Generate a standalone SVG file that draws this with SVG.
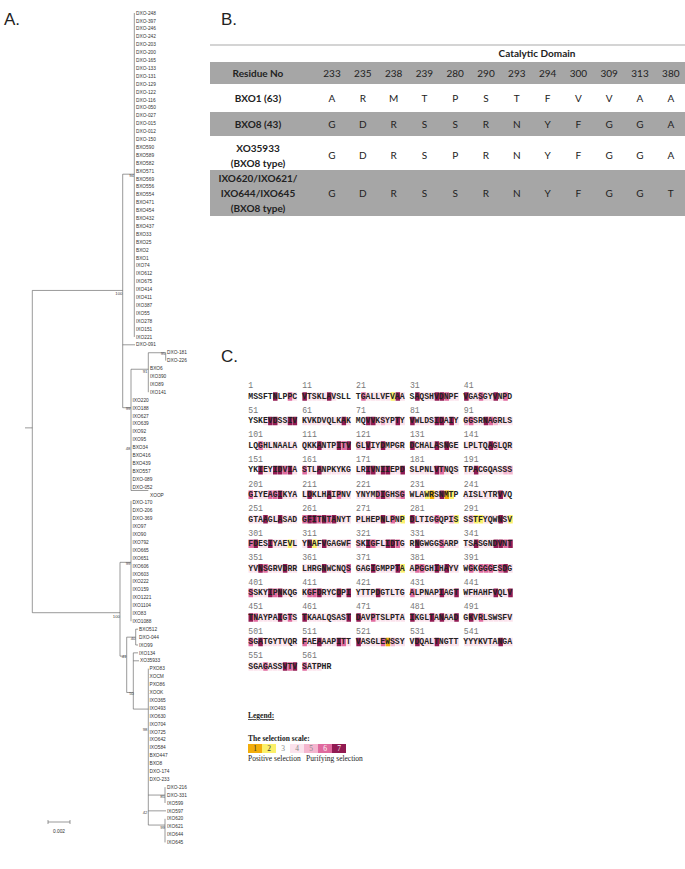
<svg xmlns="http://www.w3.org/2000/svg" width="685" height="869" viewBox="0 0 685 869">
<style>
.t{font-family:"Liberation Sans",Arial,sans-serif;font-size:4.8px;fill:#333}
.bs{font-family:"Liberation Sans",Arial,sans-serif;font-size:4.3px;fill:#444;text-anchor:end}
.br{stroke:#555;stroke-width:0.6;fill:none}
.lab{font-family:"Liberation Sans",Arial,sans-serif;font-size:17px;fill:#222}
.tb{font-family:Lato,"Liberation Sans",sans-serif;font-size:10px;fill:#222;text-anchor:middle}
.b{font-weight:bold}
.sq{font-family:"Liberation Mono","Courier New",monospace;font-size:11.85px;font-weight:bold;fill:#222}
.nm{font-family:"Liberation Mono","Courier New",monospace;font-size:11.85px;fill:#777}
.s1{stroke:#f2ad0b;stroke-width:12.5;fill:none}
.s2{stroke:#fbf06a;stroke-width:12.5;fill:none}
.s4{stroke:#fbe2ec;stroke-width:12.5;fill:none}
.s5{stroke:#f4b6cf;stroke-width:12.5;fill:none}
.s6{stroke:#e06a9e;stroke-width:12.5;fill:none}
.s7{stroke:#911a52;stroke-width:12.5;fill:none}
.lg{font-family:"Liberation Serif","Times New Roman",serif;font-size:7.5px;fill:#222}
.lgn{font-family:"Liberation Serif","Times New Roman",serif;font-size:7.5px;text-anchor:middle}
</style>
<rect width="685" height="869" fill="#fff"/>

<!-- Panel letters -->
<text class="lab" x="4" y="25">A.</text>
<text class="lab" x="221" y="25">B.</text>
<text class="lab" x="221" y="362">C.</text>

<!-- Panel A: tree -->
<g id="tree" transform="matrix(1 0 0 0.99371 0 -1.409)">
<g id="tree-edges">
<path class="br" d="M25 432H32.3M32.3 293.7V618M32.3 293.7H122.7M32.3 618H120M122.7 176.7V411.7M122.7 176.7H134.3M134.3 14.5V340.5M122.7 348.4H135M122.7 411.7H131M131 373V495M131 373H148.3M148.3 356.4V396.1M148.3 356.4H165.7M165.7 356.4V364.3M131 495H148.3M120 567.3V661.7M120 567.3H131M131 505.4V626.6M120 661.7H126.7M126.7 642.6V698.3M126.7 642.6H135.7M135.7 634.6V650.5M135.7 634.6H138M135.7 650.5H138M126.7 698.3H133.3M133.3 658.4V715M133.3 658.4H138M133.3 666.4H139M133.3 715H148.3M148.3 674.3V831.7M148.3 801.5H165M165 793.6V809.5M148.3 817.4H166M148.3 831.7H165M165 825.4V849.2"/>
</g>
<g id="bootstrap">
<text class="bs" x="122.5" y="298">100</text>
<text class="bs" x="134" y="179.5">94</text>
<text class="bs" x="130.5" y="414">99</text>
<text class="bs" x="147.5" y="377">91</text>
<text class="bs" x="165.5" y="358.5">95</text>
<text class="bs" x="130.5" y="454.5">48</text>
<text class="bs" x="120" y="623">100</text>
<text class="bs" x="130.5" y="569.5">99</text>
<text class="bs" x="126.5" y="664">41</text>
<text class="bs" x="135.5" y="645.5">40</text>
<text class="bs" x="134" y="700.5">50</text>
<text class="bs" x="147.5" y="737">98</text>
<text class="bs" x="165" y="804">85</text>
<text class="bs" x="147.5" y="820.5">42</text>
<text class="bs" x="165" y="836">99</text>
</g>
<g id="leaves">
<g id="n-DXO-248"><text class="t" x="136" y="16.2">DXO-248</text></g>
<g id="n-DXO-397"><text class="t" x="136" y="24.15">DXO-397</text></g>
<g id="n-DXO-246"><text class="t" x="136" y="32.1">DXO-246</text></g>
<g id="n-DXO-242"><text class="t" x="136" y="40.05">DXO-242</text></g>
<g id="n-DXO-203"><text class="t" x="136" y="48">DXO-203</text></g>
<g id="n-DXO-200"><text class="t" x="136" y="55.95">DXO-200</text></g>
<g id="n-DXO-165"><text class="t" x="136" y="63.9">DXO-165</text></g>
<g id="n-DXO-133"><text class="t" x="136" y="71.85">DXO-133</text></g>
<g id="n-DXO-131"><text class="t" x="136" y="79.8">DXO-131</text></g>
<g id="n-DXO-129"><text class="t" x="136" y="87.75">DXO-129</text></g>
<g id="n-DXO-122"><text class="t" x="136" y="95.7">DXO-122</text></g>
<g id="n-DXO-116"><text class="t" x="136" y="103.65">DXO-116</text></g>
<g id="n-DXO-050"><text class="t" x="136" y="111.6">DXO-050</text></g>
<g id="n-DXO-027"><text class="t" x="136" y="119.55">DXO-027</text></g>
<g id="n-DXO-015"><text class="t" x="136" y="127.5">DXO-015</text></g>
<g id="n-DXO-012"><text class="t" x="136" y="135.45">DXO-012</text></g>
<g id="n-DXO-150"><text class="t" x="136" y="143.4">DXO-150</text></g>
<g id="n-BXO590"><text class="t" x="136" y="151.35">BXO590</text></g>
<g id="n-BXO589"><text class="t" x="136" y="159.3">BXO589</text></g>
<g id="n-BXO582"><text class="t" x="136" y="167.25">BXO582</text></g>
<g id="n-BXO571"><text class="t" x="136" y="175.2">BXO571</text></g>
<g id="n-BXO569"><text class="t" x="136" y="183.15">BXO569</text></g>
<g id="n-BXO556"><text class="t" x="136" y="191.1">BXO556</text></g>
<g id="n-BXO554"><text class="t" x="136" y="199.05">BXO554</text></g>
<g id="n-BXO471"><text class="t" x="136" y="207">BXO471</text></g>
<g id="n-BXO454"><text class="t" x="136" y="214.95">BXO454</text></g>
<g id="n-BXO432"><text class="t" x="136" y="222.9">BXO432</text></g>
<g id="n-BXO437"><text class="t" x="136" y="230.85">BXO437</text></g>
<g id="n-BXO33"><text class="t" x="136" y="238.8">BXO33</text></g>
<g id="n-BXO25"><text class="t" x="136" y="246.75">BXO25</text></g>
<g id="n-BXO2"><text class="t" x="136" y="254.7">BXO2</text></g>
<g id="n-BXO1"><text class="t" x="136" y="262.65">BXO1</text></g>
<g id="n-IXO74"><text class="t" x="136" y="270.6">IXO74</text></g>
<g id="n-IXO612"><text class="t" x="136" y="278.55">IXO612</text></g>
<g id="n-IXO675"><text class="t" x="136" y="286.5">IXO675</text></g>
<g id="n-IXO414"><text class="t" x="136" y="294.45">IXO414</text></g>
<g id="n-IXO411"><text class="t" x="136" y="302.4">IXO411</text></g>
<g id="n-IXO387"><text class="t" x="136" y="310.35">IXO387</text></g>
<g id="n-IXO55"><text class="t" x="136" y="318.3">IXO55</text></g>
<g id="n-IXO278"><text class="t" x="136" y="326.25">IXO278</text></g>
<g id="n-IXO151"><text class="t" x="136" y="334.2">IXO151</text></g>
<g id="n-IXO221"><text class="t" x="136" y="342.15">IXO221</text></g>
<g id="n-DXO-091"><text class="t" x="136" y="350.1">DXO-091</text></g>
<g id="n-DXO-181"><text class="t" x="167" y="358.05">DXO-181</text></g>
<g id="n-DXO-226"><text class="t" x="167" y="366">DXO-226</text></g>
<g id="n-BXO6"><text class="t" x="150" y="373.95">BXO6</text></g>
<g id="n-IXO390"><text class="t" x="150" y="381.9">IXO390</text></g>
<g id="n-IXO89"><text class="t" x="150" y="389.85">IXO89</text></g>
<g id="n-IXO141"><text class="t" x="150" y="397.8">IXO141</text></g>
<g id="n-IXO220"><text class="t" x="132.5" y="405.75">IXO220</text></g>
<g id="n-IXO188"><text class="t" x="132.5" y="413.7">IXO188</text></g>
<g id="n-IXO627"><text class="t" x="132.5" y="421.65">IXO627</text></g>
<g id="n-IXO639"><text class="t" x="132.5" y="429.6">IXO639</text></g>
<g id="n-IXO92"><text class="t" x="132.5" y="437.55">IXO92</text></g>
<g id="n-IXO95"><text class="t" x="132.5" y="445.5">IXO95</text></g>
<g id="n-BXO34"><text class="t" x="132.5" y="453.45">BXO34</text></g>
<g id="n-BXO416"><text class="t" x="132.5" y="461.4">BXO416</text></g>
<g id="n-BXO439"><text class="t" x="132.5" y="469.35">BXO439</text></g>
<g id="n-BXO557"><text class="t" x="132.5" y="477.3">BXO557</text></g>
<g id="n-DXO-089"><text class="t" x="132.5" y="485.25">DXO-089</text></g>
<g id="n-DXO-052"><text class="t" x="132.5" y="493.2">DXO-052</text></g>
<g id="n-XOOP"><text class="t" x="150" y="501.15">XOOP</text></g>
<g id="n-DXO-170"><text class="t" x="132.5" y="509.1">DXO-170</text></g>
<g id="n-DXO-206"><text class="t" x="132.5" y="517.05">DXO-206</text></g>
<g id="n-DXO-369"><text class="t" x="132.5" y="525">DXO-369</text></g>
<g id="n-IXO97"><text class="t" x="132.5" y="532.95">IXO97</text></g>
<g id="n-IXO90"><text class="t" x="132.5" y="540.9">IXO90</text></g>
<g id="n-IXO792"><text class="t" x="132.5" y="548.85">IXO792</text></g>
<g id="n-IXO665"><text class="t" x="132.5" y="556.8">IXO665</text></g>
<g id="n-IXO651"><text class="t" x="132.5" y="564.75">IXO651</text></g>
<g id="n-IXO606"><text class="t" x="132.5" y="572.7">IXO606</text></g>
<g id="n-IXO603"><text class="t" x="132.5" y="580.65">IXO603</text></g>
<g id="n-IXO222"><text class="t" x="132.5" y="588.6">IXO222</text></g>
<g id="n-IXO159"><text class="t" x="132.5" y="596.55">IXO159</text></g>
<g id="n-IXO1221"><text class="t" x="132.5" y="604.5">IXO1221</text></g>
<g id="n-IXO1104"><text class="t" x="132.5" y="612.45">IXO1104</text></g>
<g id="n-IXO83"><text class="t" x="132.5" y="620.4">IXO83</text></g>
<g id="n-IXO1088"><text class="t" x="132.5" y="628.35">IXO1088</text></g>
<g id="n-BXO512"><text class="t" x="139" y="636.3">BXO512</text></g>
<g id="n-DXO-044"><text class="t" x="139" y="644.25">DXO-044</text></g>
<g id="n-IXO99"><text class="t" x="139" y="652.2">IXO99</text></g>
<g id="n-IXO134"><text class="t" x="139" y="660.15">IXO134</text></g>
<g id="n-XO35933"><text class="t" x="140" y="668.1">XO35933</text></g>
<g id="n-PXO83"><text class="t" x="149.5" y="676.05">PXO83</text></g>
<g id="n-XOCM"><text class="t" x="149.5" y="684">XOCM</text></g>
<g id="n-PXO86"><text class="t" x="149.5" y="691.95">PXO86</text></g>
<g id="n-XOOK"><text class="t" x="149.5" y="699.9">XOOK</text></g>
<g id="n-IXO365"><text class="t" x="149.5" y="707.85">IXO365</text></g>
<g id="n-IXO493"><text class="t" x="149.5" y="715.8">IXO493</text></g>
<g id="n-IXO630"><text class="t" x="149.5" y="723.75">IXO630</text></g>
<g id="n-IXO704"><text class="t" x="149.5" y="731.7">IXO704</text></g>
<g id="n-IXO725"><text class="t" x="149.5" y="739.65">IXO725</text></g>
<g id="n-IXO642"><text class="t" x="149.5" y="747.6">IXO642</text></g>
<g id="n-IXO584"><text class="t" x="149.5" y="755.55">IXO584</text></g>
<g id="n-BXO447"><text class="t" x="149.5" y="763.5">BXO447</text></g>
<g id="n-BXO8"><text class="t" x="149.5" y="771.45">BXO8</text></g>
<g id="n-DXO-174"><text class="t" x="149.5" y="779.4">DXO-174</text></g>
<g id="n-DXO-233"><text class="t" x="149.5" y="787.35">DXO-233</text></g>
<g id="n-DXO-216"><text class="t" x="167" y="795.3">DXO-216</text></g>
<g id="n-DXO-331"><text class="t" x="167" y="803.25">DXO-331</text></g>
<g id="n-IXO599"><text class="t" x="167" y="811.2">IXO599</text></g>
<g id="n-IXO597"><text class="t" x="167" y="819.15">IXO597</text></g>
<g id="n-IXO620"><text class="t" x="167" y="827.1">IXO620</text></g>
<g id="n-IXO621"><text class="t" x="167" y="835.05">IXO621</text></g>
<g id="n-IXO644"><text class="t" x="167" y="843">IXO644</text></g>
<g id="n-IXO645"><text class="t" x="167" y="850.95">IXO645</text></g>
</g>
</g>
<g id="scale-bar">
<path class="br" d="M48 822H70M48 820V824M70 820V824"/>
<text class="t" x="59" y="833" text-anchor="middle">0.002</text>
</g>

<!-- Panel B: table -->
<g id="table">
<line x1="210" y1="45" x2="685" y2="45" stroke="#c6c6c6" stroke-width="1.5"/>
<rect x="210" y="62" width="475" height="22" fill="#a6a6a6"/>
<rect x="210" y="112" width="475" height="24" fill="#a6a6a6"/>
<rect x="210" y="170" width="475" height="46" fill="#a6a6a6"/>
<text class="tb b" x="537" y="56.5">Catalytic Domain</text>
<g id="row-head">
<text class="tb b" x="258" y="77">Residue No</text>
<text class="tb" x="332" y="77">233</text><text class="tb" x="362.8" y="77">235</text><text class="tb" x="393.6" y="77">238</text><text class="tb" x="424.4" y="77">239</text><text class="tb" x="455.2" y="77">280</text><text class="tb" x="486" y="77">290</text><text class="tb" x="516.8" y="77">293</text><text class="tb" x="547.6" y="77">294</text><text class="tb" x="578.4" y="77">300</text><text class="tb" x="609.2" y="77">309</text><text class="tb" x="640" y="77">313</text><text class="tb" x="670.8" y="77">380</text>
</g>
<g id="row-bxo1">
<text class="tb b" x="258" y="102">BXO1 (63)</text>
<text class="tb" x="332" y="102">A</text><text class="tb" x="362.8" y="102">R</text><text class="tb" x="393.6" y="102">M</text><text class="tb" x="424.4" y="102">T</text><text class="tb" x="455.2" y="102">P</text><text class="tb" x="486" y="102">S</text><text class="tb" x="516.8" y="102">T</text><text class="tb" x="547.6" y="102">F</text><text class="tb" x="578.4" y="102">V</text><text class="tb" x="609.2" y="102">V</text><text class="tb" x="640" y="102">A</text><text class="tb" x="670.8" y="102">A</text>
</g>
<g id="row-bxo8">
<text class="tb b" x="258" y="127.5">BXO8 (43)</text>
<text class="tb" x="332" y="127.5">G</text><text class="tb" x="362.8" y="127.5">D</text><text class="tb" x="393.6" y="127.5">R</text><text class="tb" x="424.4" y="127.5">S</text><text class="tb" x="455.2" y="127.5">S</text><text class="tb" x="486" y="127.5">R</text><text class="tb" x="516.8" y="127.5">N</text><text class="tb" x="547.6" y="127.5">Y</text><text class="tb" x="578.4" y="127.5">F</text><text class="tb" x="609.2" y="127.5">G</text><text class="tb" x="640" y="127.5">G</text><text class="tb" x="670.8" y="127.5">A</text>
</g>
<g id="row-xo35933">
<text class="tb b" x="258" y="151.5">XO35933</text>
<text class="tb b" x="258" y="166.5">(BXO8 type)</text>
<text class="tb" x="332" y="159">G</text><text class="tb" x="362.8" y="159">D</text><text class="tb" x="393.6" y="159">R</text><text class="tb" x="424.4" y="159">S</text><text class="tb" x="455.2" y="159">P</text><text class="tb" x="486" y="159">R</text><text class="tb" x="516.8" y="159">N</text><text class="tb" x="547.6" y="159">Y</text><text class="tb" x="578.4" y="159">F</text><text class="tb" x="609.2" y="159">G</text><text class="tb" x="640" y="159">G</text><text class="tb" x="670.8" y="159">A</text>
</g>
<g id="row-ixo">
<text class="tb b" x="258" y="181.5">IXO620/IXO621/</text>
<text class="tb b" x="258" y="196.5">IXO644/IXO645</text>
<text class="tb b" x="258" y="211.5">(BXO8 type)</text>
<text class="tb" x="332" y="196.5">G</text><text class="tb" x="362.8" y="196.5">D</text><text class="tb" x="393.6" y="196.5">R</text><text class="tb" x="424.4" y="196.5">S</text><text class="tb" x="455.2" y="196.5">S</text><text class="tb" x="486" y="196.5">R</text><text class="tb" x="516.8" y="196.5">N</text><text class="tb" x="547.6" y="196.5">Y</text><text class="tb" x="578.4" y="196.5">F</text><text class="tb" x="609.2" y="196.5">G</text><text class="tb" x="640" y="196.5">G</text><text class="tb" x="670.8" y="196.5">T</text>
</g>
</g>

<!-- Panel C: sequence -->
<g id="sequence">
<g transform="translate(75.95,396.5) scale(0.688)">
<path class="s4" d="M314.9 0h6.6M336.3 0h6.6M343.4 0h6.6M350.5 0h6.6M357.6 0h6.6M371.9 0h6.6M421.7 0h6.6M428.9 0h6.6M436 0h6.6M443.1 0h6.6M450.2 0h6.6M471.6 0h6.6M500.1 0h6.6M507.2 0h6.6M514.3 0h6.6M542.8 0h6.6M549.9 0h6.6M571.3 0h6.6M578.4 0h6.6M592.7 0h6.6M599.8 0h6.6M614 0h6.6"/>
<path class="s6" d="M307.8 0h6.6M414.6 0h6.6M535.7 0h6.6M585.5 0h6.6M621.1 0h6.6"/>
<path class="s7" d="M286.4 0h6.6M329.1 0h6.6M364.8 0h6.6M464.5 0h6.6M493 0h6.6M521.4 0h6.6M528.6 0h6.6M564.2 0h6.6M606.9 0h6.6"/>
<path class="s2" d="M457.3 0h6.6"/>
<text class="nm" x="250.5" y="-11.9">1</text><text class="nm" x="328.84" y="-11.9">11</text><text class="nm" x="407.18" y="-11.9">21</text><text class="nm" x="485.52" y="-11.9">31</text><text class="nm" x="563.86" y="-11.9">41</text>
<text class="sq" x="250.5" y="3.4">MSSFTNLPPC VTSKLAVSLL TGALLVFVAA SAQSHVDNPF VGASGYVNPD</text>
</g>
<g transform="translate(75.95,421.05) scale(0.688)">
<path class="s4" d="M272.2 0h6.6M293.5 0h6.6M300.7 0h6.6M329.1 0h6.6M336.3 0h6.6M343.4 0h6.6M350.5 0h6.6M357.6 0h6.6M364.8 0h6.6M371.9 0h6.6M379 0h6.6M393.2 0h6.6M414.6 0h6.6M436 0h6.6M450.2 0h6.6M457.3 0h6.6M471.6 0h6.6M493 0h6.6M500.1 0h6.6M507.2 0h6.6M514.3 0h6.6M535.7 0h6.6M549.9 0h6.6M578.4 0h6.6M585.5 0h6.6M614 0h6.6M621.1 0h6.6M628.3 0h6.6"/>
<path class="s5" d="M443.1 0h6.6M564.2 0h6.6M606.9 0h6.6"/>
<path class="s6" d="M571.3 0h6.6M599.8 0h6.6"/>
<path class="s7" d="M279.3 0h6.6M286.4 0h6.6M307.8 0h6.6M314.9 0h6.6M386.1 0h6.6M421.7 0h6.6M428.9 0h6.6M464.5 0h6.6M485.8 0h6.6M521.4 0h6.6M528.6 0h6.6M542.8 0h6.6M592.7 0h6.6"/>
<text class="nm" x="250.5" y="-11.9">51</text><text class="nm" x="328.84" y="-11.9">61</text><text class="nm" x="407.18" y="-11.9">71</text><text class="nm" x="485.52" y="-11.9">81</text><text class="nm" x="563.86" y="-11.9">91</text>
<text class="sq" x="250.5" y="3.4">YSKEVDSSIV KVKDVQLKAK MQVVKSYPTY VWLDSIDAIY GGSRNAGRLS</text>
</g>
<g transform="translate(75.95,445.6) scale(0.688)">
<path class="s4" d="M272.2 0h6.6M279.3 0h6.6M286.4 0h6.6M293.5 0h6.6M300.7 0h6.6M307.8 0h6.6M314.9 0h6.6M329.1 0h6.6M336.3 0h6.6M343.4 0h6.6M357.6 0h6.6M364.8 0h6.6M371.9 0h6.6M414.6 0h6.6M428.9 0h6.6M436 0h6.6M450.2 0h6.6M457.3 0h6.6M464.5 0h6.6M471.6 0h6.6M493 0h6.6M500.1 0h6.6M507.2 0h6.6M514.3 0h6.6M528.6 0h6.6M542.8 0h6.6M549.9 0h6.6M564.2 0h6.6M571.3 0h6.6M578.4 0h6.6M585.5 0h6.6M592.7 0h6.6M614 0h6.6M621.1 0h6.6M628.3 0h6.6"/>
<path class="s5" d="M407.5 0h6.6M606.9 0h6.6"/>
<path class="s6" d="M265 0h6.6M386.1 0h6.6"/>
<path class="s7" d="M350.5 0h6.6M379 0h6.6M393.2 0h6.6M421.7 0h6.6M443.1 0h6.6M485.8 0h6.6M521.4 0h6.6M535.7 0h6.6M599.8 0h6.6"/>
<text class="nm" x="250.5" y="-11.9">101</text><text class="nm" x="328.84" y="-11.9">111</text><text class="nm" x="407.18" y="-11.9">121</text><text class="nm" x="485.52" y="-11.9">131</text><text class="nm" x="563.86" y="-11.9">141</text>
<text class="sq" x="250.5" y="3.4">LQGHLNAALA QKKANTPITV GLVIYDMPGR DCHALASNGE LPLTQAGLQR</text>
</g>
<g transform="translate(75.95,470.15) scale(0.688)">
<path class="s4" d="M272.2 0h6.6M279.3 0h6.6M314.9 0h6.6M336.3 0h6.6M343.4 0h6.6M357.6 0h6.6M364.8 0h6.6M371.9 0h6.6M379 0h6.6M386.1 0h6.6M393.2 0h6.6M407.5 0h6.6M414.6 0h6.6M436 0h6.6M457.3 0h6.6M464.5 0h6.6M485.8 0h6.6M493 0h6.6M500.1 0h6.6M507.2 0h6.6M514.3 0h6.6M535.7 0h6.6M542.8 0h6.6M549.9 0h6.6M564.2 0h6.6M571.3 0h6.6M585.5 0h6.6M592.7 0h6.6M599.8 0h6.6M606.9 0h6.6M614 0h6.6"/>
<path class="s5" d="M621.1 0h6.6M628.3 0h6.6"/>
<path class="s6" d="M300.7 0h6.6M329.1 0h6.6M528.6 0h6.6"/>
<path class="s7" d="M265 0h6.6M286.4 0h6.6M293.5 0h6.6M307.8 0h6.6M350.5 0h6.6M421.7 0h6.6M428.9 0h6.6M443.1 0h6.6M450.2 0h6.6M471.6 0h6.6M521.4 0h6.6M578.4 0h6.6"/>
<text class="nm" x="250.5" y="-11.9">151</text><text class="nm" x="328.84" y="-11.9">161</text><text class="nm" x="407.18" y="-11.9">171</text><text class="nm" x="485.52" y="-11.9">181</text><text class="nm" x="563.86" y="-11.9">191</text>
<text class="sq" x="250.5" y="3.4">YKIEYIDVIA STLANPKYKG LRIVNIIEPD SLPNLVTNQS TPACGQASSS</text>
</g>
<g transform="translate(75.95,494.7) scale(0.688)">
<path class="s4" d="M257.9 0h6.6M265 0h6.6M272.2 0h6.6M300.7 0h6.6M307.8 0h6.6M314.9 0h6.6M329.1 0h6.6M343.4 0h6.6M350.5 0h6.6M357.6 0h6.6M371.9 0h6.6M386.1 0h6.6M393.2 0h6.6M407.5 0h6.6M414.6 0h6.6M421.7 0h6.6M428.9 0h6.6M457.3 0h6.6M485.8 0h6.6M493 0h6.6M500.1 0h6.6M521.4 0h6.6M564.2 0h6.6M571.3 0h6.6M578.4 0h6.6M585.5 0h6.6M592.7 0h6.6M599.8 0h6.6M606.9 0h6.6M621.1 0h6.6"/>
<path class="s5" d="M450.2 0h6.6M464.5 0h6.6"/>
<path class="s6" d="M250.8 0h6.6M279.3 0h6.6M286.4 0h6.6M379 0h6.6M436 0h6.6M471.6 0h6.6"/>
<path class="s7" d="M293.5 0h6.6M336.3 0h6.6M364.8 0h6.6M443.1 0h6.6M528.6 0h6.6M614 0h6.6"/>
<path class="s2" d="M507.2 0h6.6M542.8 0h6.6"/>
<path class="s1" d="M514.3 0h6.6M535.7 0h6.6"/>
<text class="nm" x="250.5" y="-11.9">201</text><text class="nm" x="328.84" y="-11.9">211</text><text class="nm" x="407.18" y="-11.9">221</text><text class="nm" x="485.52" y="-11.9">231</text><text class="nm" x="563.86" y="-11.9">241</text>
<text class="sq" x="250.5" y="3.4">GIYEAGIKYA LDKLHAIPNV YNYMDIGHSG WLAWRSNMTP AISLYTRVVQ</text>
</g>
<g transform="translate(75.95,519.25) scale(0.688)">
<path class="s4" d="M250.8 0h6.6M257.9 0h6.6M265 0h6.6M279.3 0h6.6M286.4 0h6.6M300.7 0h6.6M307.8 0h6.6M314.9 0h6.6M379 0h6.6M386.1 0h6.6M393.2 0h6.6M407.5 0h6.6M414.6 0h6.6M421.7 0h6.6M428.9 0h6.6M436 0h6.6M450.2 0h6.6M464.5 0h6.6M493 0h6.6M500.1 0h6.6M507.2 0h6.6M514.3 0h6.6M528.6 0h6.6M535.7 0h6.6M564.2 0h6.6M592.7 0h6.6M599.8 0h6.6M606.9 0h6.6M621.1 0h6.6"/>
<path class="s5" d="M542.8 0h6.6M571.3 0h6.6"/>
<path class="s6" d="M329.1 0h6.6M350.5 0h6.6M364.8 0h6.6M457.3 0h6.6M521.4 0h6.6"/>
<path class="s7" d="M272.2 0h6.6M293.5 0h6.6M336.3 0h6.6M343.4 0h6.6M357.6 0h6.6M371.9 0h6.6M443.1 0h6.6M485.8 0h6.6M614 0h6.6"/>
<path class="s2" d="M471.6 0h6.6M549.9 0h6.6M578.4 0h6.6M585.5 0h6.6M628.3 0h6.6"/>
<text class="nm" x="250.5" y="-11.9">251</text><text class="nm" x="328.84" y="-11.9">261</text><text class="nm" x="407.18" y="-11.9">271</text><text class="nm" x="485.52" y="-11.9">281</text><text class="nm" x="563.86" y="-11.9">291</text>
<text class="sq" x="250.5" y="3.4">GTAAGLASAD GFITNTANYT PLHEPNLPNP DLTIGGQPIS SSTFYQWNSV</text>
</g>
<g transform="translate(75.95,543.8) scale(0.688)">
<path class="s4" d="M265 0h6.6M272.2 0h6.6M286.4 0h6.6M293.5 0h6.6M300.7 0h6.6M314.9 0h6.6M329.1 0h6.6M350.5 0h6.6M364.8 0h6.6M371.9 0h6.6M379 0h6.6M386.1 0h6.6M414.6 0h6.6M436 0h6.6M443.1 0h6.6M471.6 0h6.6M485.8 0h6.6M500.1 0h6.6M507.2 0h6.6M514.3 0h6.6M521.4 0h6.6M535.7 0h6.6M542.8 0h6.6M549.9 0h6.6M564.2 0h6.6M571.3 0h6.6M585.5 0h6.6M592.7 0h6.6M599.8 0h6.6"/>
<path class="s5" d="M393.2 0h6.6M407.5 0h6.6"/>
<path class="s6" d="M250.8 0h6.6M428.9 0h6.6M464.5 0h6.6M528.6 0h6.6M621.1 0h6.6"/>
<path class="s7" d="M257.9 0h6.6M279.3 0h6.6M336.3 0h6.6M357.6 0h6.6M421.7 0h6.6M450.2 0h6.6M457.3 0h6.6M493 0h6.6M578.4 0h6.6M606.9 0h6.6M614 0h6.6M628.3 0h6.6"/>
<path class="s2" d="M307.8 0h6.6M343.4 0h6.6"/>
<text class="nm" x="250.5" y="-11.9">301</text><text class="nm" x="328.84" y="-11.9">311</text><text class="nm" x="407.18" y="-11.9">321</text><text class="nm" x="485.52" y="-11.9">331</text><text class="nm" x="563.86" y="-11.9">341</text>
<text class="sq" x="250.5" y="3.4">FDESIYAEVL YNAFVGAGWF SKIGFLIDTG RNGWGGSARP TSASGNDVNT</text>
</g>
<g transform="translate(75.95,568.35) scale(0.688)">
<path class="s4" d="M250.8 0h6.6M257.9 0h6.6M279.3 0h6.6M286.4 0h6.6M293.5 0h6.6M307.8 0h6.6M314.9 0h6.6M329.1 0h6.6M336.3 0h6.6M343.4 0h6.6M350.5 0h6.6M364.8 0h6.6M371.9 0h6.6M379 0h6.6M386.1 0h6.6M407.5 0h6.6M414.6 0h6.6M421.7 0h6.6M436 0h6.6M443.1 0h6.6M450.2 0h6.6M457.3 0h6.6M485.8 0h6.6M507.2 0h6.6M514.3 0h6.6M528.6 0h6.6M542.8 0h6.6M549.9 0h6.6M564.2 0h6.6M578.4 0h6.6M606.9 0h6.6M628.3 0h6.6"/>
<path class="s6" d="M272.2 0h6.6M393.2 0h6.6M493 0h6.6M500.1 0h6.6M571.3 0h6.6M585.5 0h6.6M592.7 0h6.6M599.8 0h6.6M614 0h6.6"/>
<path class="s7" d="M265 0h6.6M300.7 0h6.6M357.6 0h6.6M428.9 0h6.6M464.5 0h6.6M521.4 0h6.6M535.7 0h6.6M621.1 0h6.6"/>
<path class="s2" d="M471.6 0h6.6"/>
<text class="nm" x="250.5" y="-11.9">351</text><text class="nm" x="328.84" y="-11.9">361</text><text class="nm" x="407.18" y="-11.9">371</text><text class="nm" x="485.52" y="-11.9">381</text><text class="nm" x="563.86" y="-11.9">391</text>
<text class="sq" x="250.5" y="3.4">YVNSGRVDRR LHRGNWCNQS GAGIGMPPTA APGGHIHAYV WGKGGGESDG</text>
</g>
<g transform="translate(75.95,592.9) scale(0.688)">
<path class="s4" d="M257.9 0h6.6M265 0h6.6M272.2 0h6.6M300.7 0h6.6M307.8 0h6.6M314.9 0h6.6M329.1 0h6.6M357.6 0h6.6M364.8 0h6.6M371.9 0h6.6M386.1 0h6.6M407.5 0h6.6M414.6 0h6.6M421.7 0h6.6M428.9 0h6.6M443.1 0h6.6M450.2 0h6.6M457.3 0h6.6M464.5 0h6.6M471.6 0h6.6M493 0h6.6M500.1 0h6.6M507.2 0h6.6M514.3 0h6.6M521.4 0h6.6M535.7 0h6.6M542.8 0h6.6M564.2 0h6.6M571.3 0h6.6M578.4 0h6.6M585.5 0h6.6M592.7 0h6.6M599.8 0h6.6M614 0h6.6M621.1 0h6.6"/>
<path class="s6" d="M250.8 0h6.6M286.4 0h6.6M336.3 0h6.6M343.4 0h6.6M485.8 0h6.6"/>
<path class="s7" d="M279.3 0h6.6M293.5 0h6.6M350.5 0h6.6M379 0h6.6M393.2 0h6.6M436 0h6.6M528.6 0h6.6M549.9 0h6.6M606.9 0h6.6M628.3 0h6.6"/>
<text class="nm" x="250.5" y="-11.9">401</text><text class="nm" x="328.84" y="-11.9">411</text><text class="nm" x="407.18" y="-11.9">421</text><text class="nm" x="485.52" y="-11.9">431</text><text class="nm" x="563.86" y="-11.9">441</text>
<text class="sq" x="250.5" y="3.4">SSKYIPNKQG KGFDRYCDPI YTTPDGTLTG ALPNAPIAGT WFHAHFVQLV</text>
</g>
<g transform="translate(75.95,617.45) scale(0.688)">
<path class="s4" d="M265 0h6.6M272.2 0h6.6M279.3 0h6.6M286.4 0h6.6M300.7 0h6.6M314.9 0h6.6M336.3 0h6.6M343.4 0h6.6M350.5 0h6.6M357.6 0h6.6M364.8 0h6.6M371.9 0h6.6M379 0h6.6M386.1 0h6.6M414.6 0h6.6M421.7 0h6.6M436 0h6.6M443.1 0h6.6M450.2 0h6.6M457.3 0h6.6M464.5 0h6.6M471.6 0h6.6M493 0h6.6M500.1 0h6.6M507.2 0h6.6M521.4 0h6.6M535.7 0h6.6M542.8 0h6.6M564.2 0h6.6M578.4 0h6.6M592.7 0h6.6M599.8 0h6.6M606.9 0h6.6M614 0h6.6M621.1 0h6.6M628.3 0h6.6"/>
<path class="s6" d="M257.9 0h6.6M307.8 0h6.6M428.9 0h6.6M585.5 0h6.6"/>
<path class="s7" d="M250.8 0h6.6M293.5 0h6.6M329.1 0h6.6M393.2 0h6.6M407.5 0h6.6M485.8 0h6.6M514.3 0h6.6M528.6 0h6.6M549.9 0h6.6M571.3 0h6.6"/>
<text class="nm" x="250.5" y="-11.9">451</text><text class="nm" x="328.84" y="-11.9">461</text><text class="nm" x="407.18" y="-11.9">471</text><text class="nm" x="485.52" y="-11.9">481</text><text class="nm" x="563.86" y="-11.9">491</text>
<text class="sq" x="250.5" y="3.4">TNAYPAIGTS TKAALQSAST DAVPTSLPTA IKGLTANAAD GKVRLSWSFV</text>
</g>
<g transform="translate(75.95,642) scale(0.688)">
<path class="s4" d="M257.9 0h6.6M272.2 0h6.6M279.3 0h6.6M286.4 0h6.6M293.5 0h6.6M300.7 0h6.6M307.8 0h6.6M314.9 0h6.6M336.3 0h6.6M343.4 0h6.6M357.6 0h6.6M364.8 0h6.6M371.9 0h6.6M393.2 0h6.6M414.6 0h6.6M421.7 0h6.6M428.9 0h6.6M436 0h6.6M464.5 0h6.6M471.6 0h6.6M485.8 0h6.6M500.1 0h6.6M507.2 0h6.6M514.3 0h6.6M528.6 0h6.6M535.7 0h6.6M542.8 0h6.6M549.9 0h6.6M564.2 0h6.6M571.3 0h6.6M578.4 0h6.6M585.5 0h6.6M592.7 0h6.6M599.8 0h6.6M606.9 0h6.6M621.1 0h6.6M628.3 0h6.6"/>
<path class="s5" d="M457.3 0h6.6"/>
<path class="s6" d="M250.8 0h6.6M329.1 0h6.6M386.1 0h6.6M443.1 0h6.6"/>
<path class="s7" d="M265 0h6.6M350.5 0h6.6M379 0h6.6M407.5 0h6.6M493 0h6.6M521.4 0h6.6M614 0h6.6"/>
<path class="s1" d="M450.2 0h6.6"/>
<text class="nm" x="250.5" y="-11.9">501</text><text class="nm" x="328.84" y="-11.9">511</text><text class="nm" x="407.18" y="-11.9">521</text><text class="nm" x="485.52" y="-11.9">531</text><text class="nm" x="563.86" y="-11.9">541</text>
<text class="sq" x="250.5" y="3.4">SGATGYTVQR FAEAAAPITT VASGLEWSSY VDQALTNGTT YYYKVTANGA</text>
</g>
<g transform="translate(75.95,666.55) scale(0.688)">
<path class="s4" d="M250.8 0h6.6M257.9 0h6.6M265 0h6.6M279.3 0h6.6M286.4 0h6.6M293.5 0h6.6M336.3 0h6.6M343.4 0h6.6M350.5 0h6.6"/>
<path class="s6" d="M272.2 0h6.6M307.8 0h6.6M329.1 0h6.6"/>
<path class="s7" d="M300.7 0h6.6M314.9 0h6.6"/>
<text class="nm" x="250.5" y="-11.9">551</text><text class="nm" x="328.84" y="-11.9">561</text>
<text class="sq" x="250.5" y="3.4">SGAGASSVTV SATPHR</text>
</g>
</g>

<!-- Legend -->
<g id="legend">
<text class="lg b" x="248" y="718" text-decoration="underline">Legend:</text>
<text class="lg b" x="248" y="741">The selection scale:</text>
<rect x="248" y="744" width="14" height="9" fill="#f2ad0b"/>
<rect x="262" y="744" width="14" height="9" fill="#fbf06a"/>
<rect x="276" y="744" width="14" height="9" fill="#ffffff"/>
<rect x="290" y="744" width="14" height="9" fill="#fbe2ec"/>
<rect x="304" y="744" width="14" height="9" fill="#f4b6cf"/>
<rect x="318" y="744" width="14" height="9" fill="#e06a9e"/>
<rect x="332" y="744" width="14" height="9" fill="#911a52"/>
<text class="lgn" x="255" y="751.3" fill="#333">1</text>
<text class="lgn" x="269" y="751.3" fill="#333">2</text>
<text class="lgn" x="283" y="751.3" fill="#888">3</text>
<text class="lgn" x="297" y="751.3" fill="#888">4</text>
<text class="lgn" x="311" y="751.3" fill="#888">5</text>
<text class="lgn" x="325" y="751.3" fill="#fff">6</text>
<text class="lgn" x="339" y="751.3" fill="#fff">7</text>
<text class="lg" x="248" y="760.5">Positive selection</text>
<text class="lg" x="306" y="760.5">Purifying selection</text>
</g>
</svg>
